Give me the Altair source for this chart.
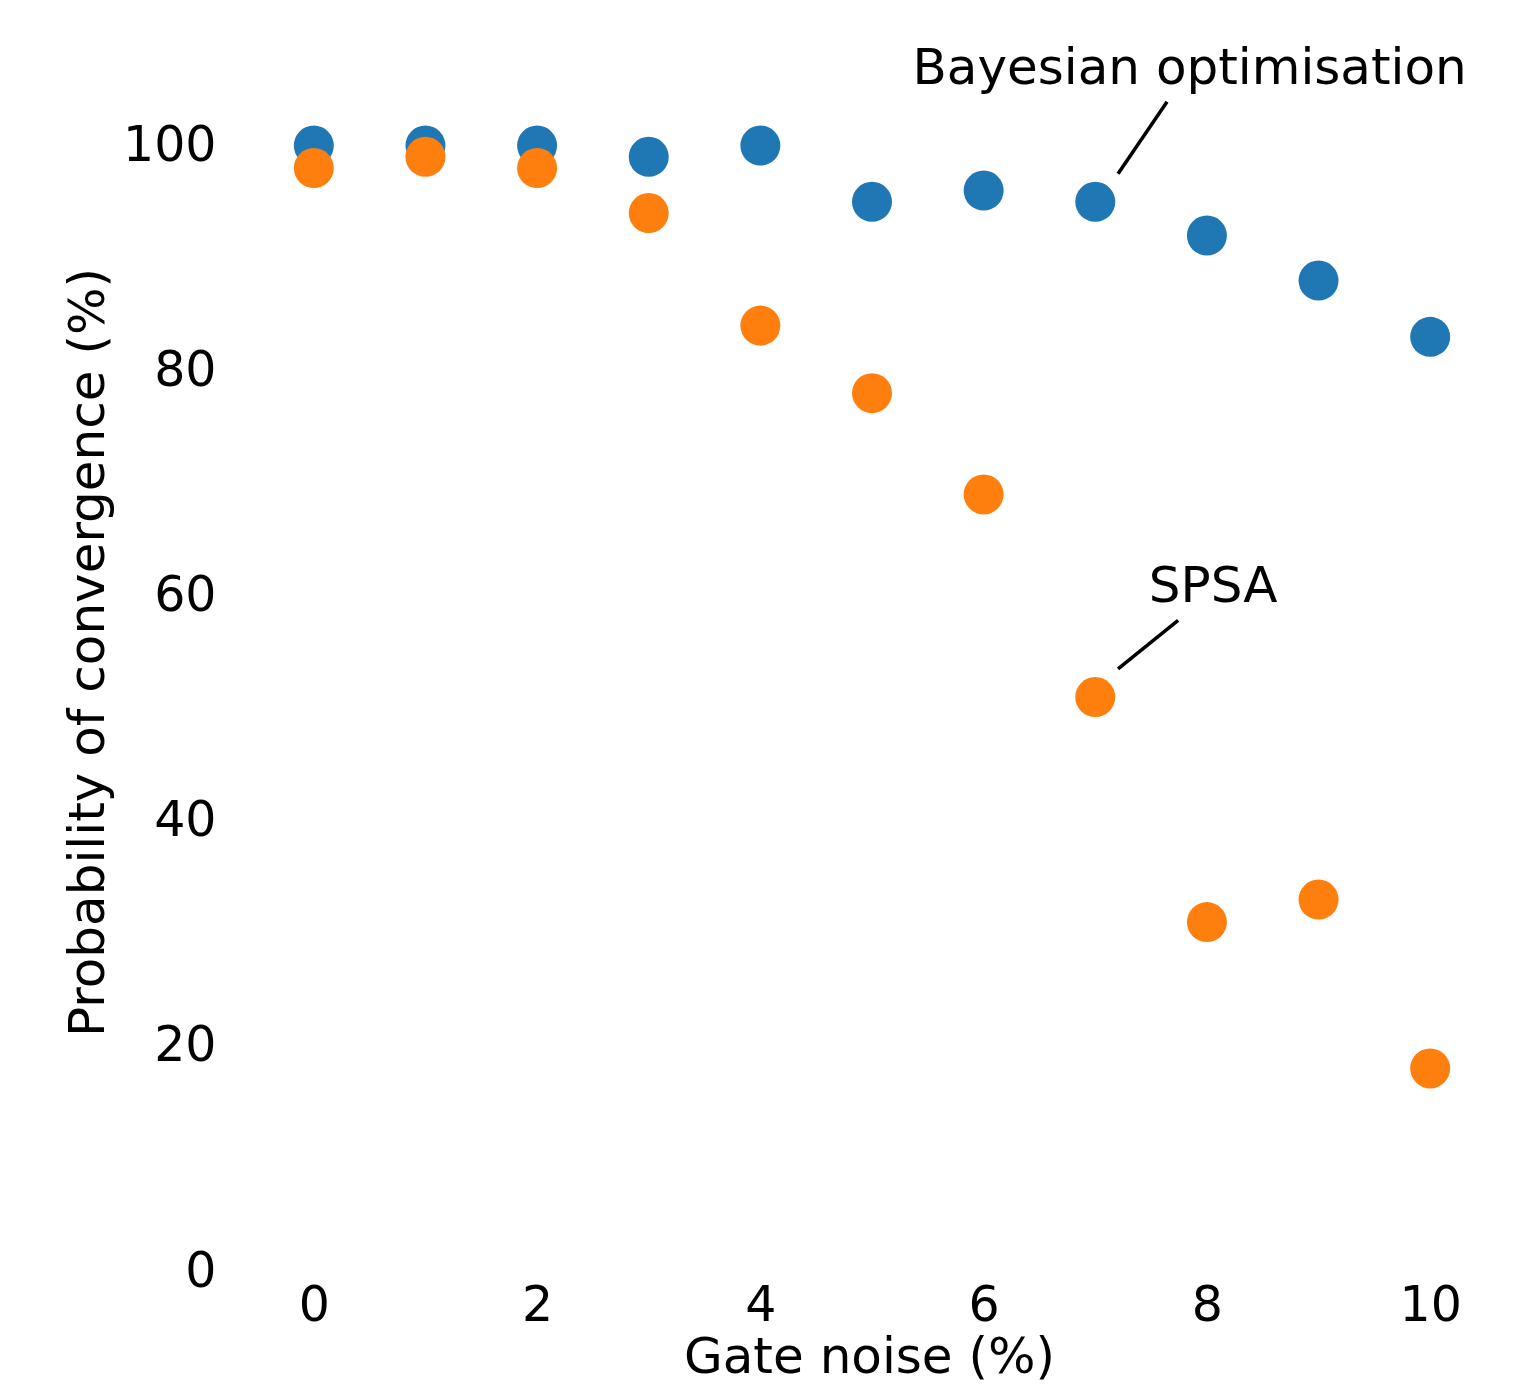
import altair as alt
import pandas as pd

noise = [0, 1, 2, 3, 4, 5, 6, 7, 8, 9, 10]
bayes = [100, 100, 100, 99, 100, 95, 96, 95, 92, 88, 83]
spsa = [98, 99, 98, 94, 84, 78, 69, 51, 31, 33, 18]

x_ticks = [0, 2, 4, 6, 8, 10]
y_ticks = [0, 20, 40, 60, 80, 100]

ann_text = ["Bayesian optimisation", "SPSA"]
ann_text_x = [7.845, 8.056]
ann_text_y = [106.8, 60.8]
ann_line_x = [7.643, 7.742]
ann_line_y = [103.9, 57.8]
ann_line_x2 = [7.204, 7.204]
ann_line_y2 = [97.5, 53.5]

FONT = "DejaVu Sans"
FS = 49
TFS = 50

df_b = pd.DataFrame({"x": noise, "y": bayes})
df_s = pd.DataFrame({"x": noise, "y": spsa})
df_ann = pd.DataFrame({
    "text": ann_text, "tx": ann_text_x, "ty": ann_text_y,
    "lx": ann_line_x, "ly": ann_line_y, "lx2": ann_line_x2, "ly2": ann_line_y2,
})

xs = alt.Scale(domain=[-0.5, 10.5], nice=False, zero=False)
ys = alt.Scale(domain=[0, 110], nice=False, zero=False)

xax = alt.Axis(values=x_ticks, format="d", title="Gate noise (%)", labelPadding=10,
               titleX=611, titleY=86, titleBaseline="middle", titleAlign="center")
yax = alt.Axis(values=y_ticks, format="d", title="Probability of convergence (%)",
               labelPadding=42, titleX=-170, titleY=619, titleAngle=-90,
               titleBaseline="middle", titleAlign="center")

base_b = alt.Chart(df_b).mark_circle(size=1600, opacity=1, color="#1f77b4").encode(
    x=alt.X("x:Q", scale=xs, axis=xax),
    y=alt.Y("y:Q", scale=ys, axis=yax),
)
base_s = alt.Chart(df_s).mark_circle(size=1600, opacity=1, color="#ff7f0e").encode(
    x=alt.X("x:Q", scale=xs),
    y=alt.Y("y:Q", scale=ys),
)
texts = alt.Chart(df_ann).mark_text(font=FONT, fontSize=TFS, color="black",
                                    align="center", baseline="middle").encode(
    x=alt.X("tx:Q", scale=xs),
    y=alt.Y("ty:Q", scale=ys),
    text="text:N",
)
lines = alt.Chart(df_ann).mark_rule(color="black", strokeWidth=3.5).encode(
    x=alt.X("lx:Q", scale=xs),
    y=alt.Y("ly:Q", scale=ys),
    x2="lx2:Q",
    y2="ly2:Q",
)

chart = alt.layer(base_b, base_s, lines, texts).properties(
    width=1228, height=1238,
    padding={"left": 250, "top": 25, "right": 30, "bottom": 112},
    autosize=alt.AutoSizeParams(type="none"),
).configure_view(stroke=None).configure_axis(
    domain=False, ticks=False, grid=False,
    labelFont=FONT, labelFontSize=FS, labelColor="black",
    titleFont=FONT, titleFontSize=TFS, titleColor="black", titleFontWeight="normal",
)

chart.save("out.html", embed_options={"renderer": "svg", "actions": False})
